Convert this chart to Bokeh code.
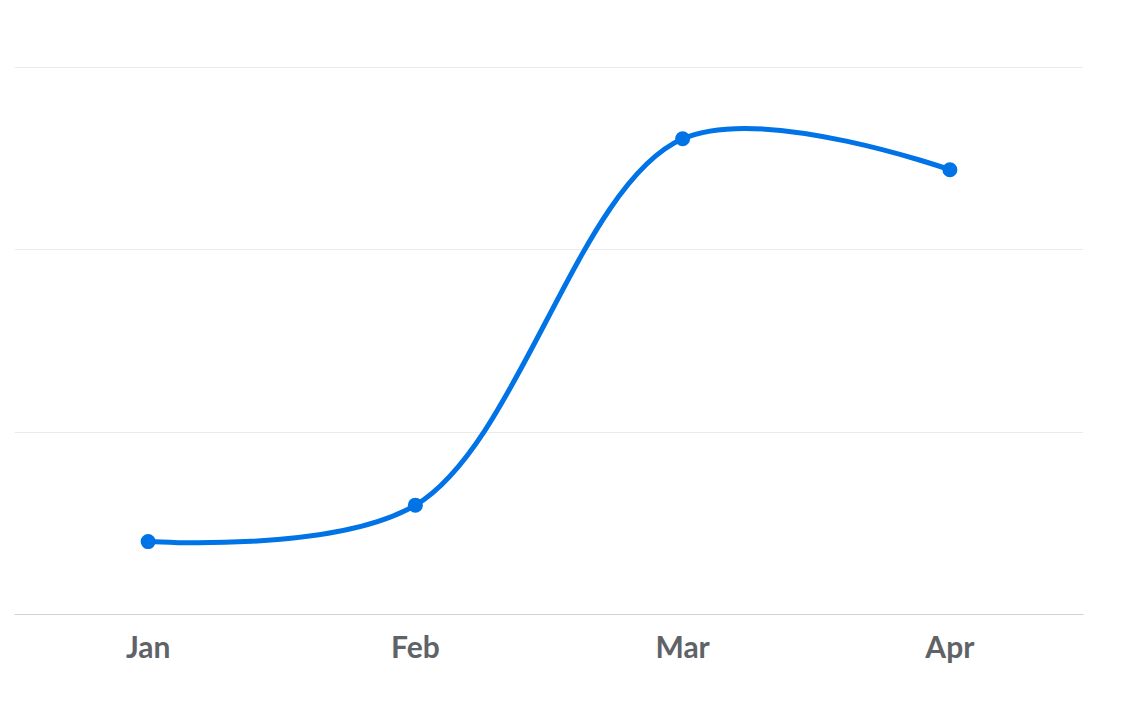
import math
from bokeh.plotting import figure
from bokeh.models import FactorRange, Range1d, FixedTicker
from bokeh.embed import file_html
from bokeh.resources import INLINE

# ---- data ----
months = ["Jan", "Feb", "Mar", "Apr"]
values = [40, 60, 261, 244]
grid_ticks = [100, 200, 300]

LINE_COLOR = "#0073E6"
FRAME_W, FRAME_H = 1069, 565
Y_MIN, Y_MAX = 0, 310

p = figure(
    x_range=FactorRange(*months, range_padding=0),
    y_range=Range1d(Y_MIN, Y_MAX),
    frame_width=FRAME_W, frame_height=FRAME_H,
    min_border_left=14, min_border_right=40, min_border_top=49, min_border_bottom=60,
    output_backend="svg", toolbar_location=None,
)
p.outline_line_color = None
p.background_fill_color = "white"
p.border_fill_color = "white"

# centripetal Catmull-Rom (alpha 0.5) in pixel space -> bezier segments in data space
sx = FRAME_W / len(months)
sy = FRAME_H / (Y_MAX - Y_MIN)
xs = [i + 0.5 for i in range(len(months))]
pts = [(x * sx, v * sy) for x, v in zip(xs, values)]

def dist(a, b):
    return math.hypot(a[0] - b[0], a[1] - b[1])

x0s, y0s, x1s, y1s, c0x, c0y, c1x, c1y = [], [], [], [], [], [], [], []
n = len(pts)
for i in range(n - 1):
    P0 = pts[i - 1] if i > 0 else None
    P1 = pts[i]
    P2 = pts[i + 1]
    P3 = pts[i + 2] if i + 2 < n else None
    l12 = dist(P1, P2)
    l12a = math.sqrt(l12)
    cp1 = P1
    if P0 is not None:
        l01 = dist(P0, P1)
        l01a = math.sqrt(l01)
        a = 2 * l01 + 3 * l01a * l12a + l12
        m = 3 * l01a * (l01a + l12a)
        cp1 = ((P1[0] * a - P0[0] * l12 + P2[0] * l01) / m,
               (P1[1] * a - P0[1] * l12 + P2[1] * l01) / m)
    cp2 = P2
    if P3 is not None:
        l23 = dist(P2, P3)
        l23a = math.sqrt(l23)
        b = 2 * l23 + 3 * l23a * l12a + l12
        m = 3 * l23a * (l23a + l12a)
        cp2 = ((P2[0] * b + P1[0] * l23 - P3[0] * l12) / m,
               (P2[1] * b + P1[1] * l23 - P3[1] * l12) / m)
    x0s.append(P1[0] / sx); y0s.append(P1[1] / sy)
    x1s.append(P2[0] / sx); y1s.append(P2[1] / sy)
    c0x.append(cp1[0] / sx); c0y.append(cp1[1] / sy)
    c1x.append(cp2[0] / sx); c1y.append(cp2[1] / sy)

p.bezier(x0=x0s, y0=y0s, x1=x1s, y1=y1s, cx0=c0x, cy0=c0y, cx1=c1x, cy1=c1y,
         line_color=LINE_COLOR, line_width=5, line_cap="round")
p.scatter(x=months, y=values, size=15, fill_color=LINE_COLOR, line_color=None)

# axes / grid
p.yaxis.visible = False
p.xgrid.grid_line_color = None
p.ygrid.ticker = FixedTicker(ticks=grid_ticks)
p.ygrid.grid_line_color = "#ebebeb"
p.ygrid.grid_line_width = 1

xa = p.xaxis[0]
xa.axis_line_color = "#d2d2d2"
xa.axis_line_width = 1
xa.major_tick_line_color = None
xa.minor_tick_line_color = None
xa.major_label_text_font = "Lato"
xa.major_label_text_font_style = "bold"
xa.major_label_text_font_size = "30px"
xa.major_label_text_color = "#5f6368"
xa.major_label_standoff = 7

open("out.html", "w").write(file_html(p, INLINE))
